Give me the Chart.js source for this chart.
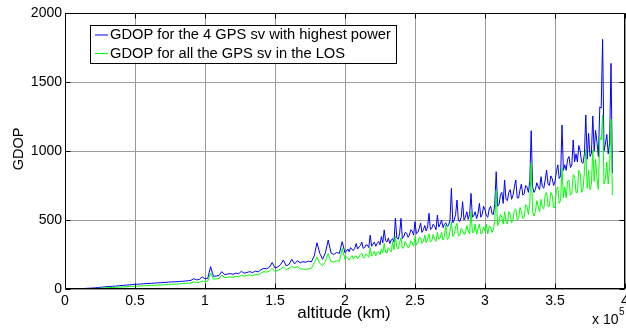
<!DOCTYPE html>
<html>
<head>
<meta charset="utf-8">
<script src="https://cdn.jsdelivr.net/npm/chart.js@4.4.1/dist/chart.umd.min.js"></script>
<style>
    html, body { margin: 0; padding: 0; background: #fff; }
    #wrap { width: 626px; height: 329px; }
</style>
</head>
<body>
<div id="wrap"><canvas id="gdop-chart" width="626" height="329"></canvas></div>
<script>
// altitude in units of 1e5 km (coarser below 2, finer above where the curves get noisy)
const altitude = [
    0, 0.02, 0.04, 0.06, 0.08, 0.1, 0.12, 0.14, 0.16, 0.18,
    0.2, 0.22, 0.24, 0.26, 0.28, 0.3, 0.32, 0.34, 0.36, 0.38,
    0.4, 0.42, 0.44, 0.46, 0.48, 0.5, 0.52, 0.54, 0.56, 0.58,
    0.6, 0.62, 0.64, 0.66, 0.68, 0.7, 0.72, 0.74, 0.76, 0.78,
    0.8, 0.82, 0.84, 0.86, 0.88, 0.9, 0.92, 0.94, 0.96, 0.98,
    1.0, 1.02, 1.04, 1.06, 1.08, 1.1, 1.12, 1.14, 1.16, 1.18,
    1.2, 1.22, 1.24, 1.26, 1.28, 1.3, 1.32, 1.34, 1.36, 1.38,
    1.4, 1.42, 1.44, 1.46, 1.48, 1.5, 1.52, 1.54, 1.56, 1.58,
    1.6, 1.62, 1.64, 1.66, 1.68, 1.7, 1.72, 1.74, 1.76, 1.78,
    1.8, 1.82, 1.84, 1.86, 1.88, 1.9, 1.92, 1.94, 1.96, 1.98,
    2.0, 2.01, 2.02, 2.03, 2.04, 2.05, 2.06, 2.07, 2.08, 2.09,
    2.1, 2.11, 2.12, 2.13, 2.14, 2.15, 2.16, 2.17, 2.18, 2.19,
    2.2, 2.21, 2.22, 2.23, 2.24, 2.25, 2.26, 2.27, 2.28, 2.29,
    2.3, 2.31, 2.32, 2.33, 2.34, 2.35, 2.36, 2.37, 2.38, 2.39,
    2.4, 2.41, 2.42, 2.43, 2.44, 2.45, 2.46, 2.47, 2.48, 2.49,
    2.5, 2.51, 2.52, 2.53, 2.54, 2.55, 2.56, 2.57, 2.58, 2.59,
    2.6, 2.61, 2.62, 2.63, 2.64, 2.65, 2.66, 2.67, 2.68, 2.69,
    2.7, 2.71, 2.72, 2.73, 2.74, 2.75, 2.76, 2.77, 2.78, 2.79,
    2.8, 2.81, 2.82, 2.83, 2.84, 2.85, 2.86, 2.87, 2.88, 2.89,
    2.9, 2.91, 2.92, 2.93, 2.94, 2.95, 2.96, 2.97, 2.98, 2.99,
    3.0, 3.01, 3.02, 3.03, 3.04, 3.05, 3.06, 3.07, 3.08, 3.09,
    3.1, 3.11, 3.12, 3.13, 3.14, 3.15, 3.16, 3.17, 3.18, 3.19,
    3.2, 3.21, 3.22, 3.23, 3.24, 3.25, 3.26, 3.27, 3.28, 3.29,
    3.3, 3.31, 3.32, 3.33, 3.34, 3.35, 3.36, 3.37, 3.38, 3.39,
    3.4, 3.41, 3.42, 3.43, 3.44, 3.45, 3.46, 3.47, 3.48, 3.49,
    3.5, 3.51, 3.52, 3.53, 3.54, 3.55, 3.56, 3.57, 3.58, 3.59,
    3.6, 3.61, 3.62, 3.63, 3.64, 3.65, 3.66, 3.67, 3.68, 3.69,
    3.7, 3.71, 3.72, 3.73, 3.74, 3.75, 3.76, 3.77, 3.78, 3.79,
    3.8, 3.81, 3.82, 3.83, 3.84, 3.85, 3.86, 3.87, 3.88, 3.89,
    3.9, 3.91
];

const gdopHighestPower = [
    0, 0, 1, 1, 2, 2, 3, 4, 5, 6,
    7, 9, 11, 13, 15, 17, 18, 20, 21, 23,
    25, 27, 28, 30, 32, 34, 35, 36, 38, 39,
    40, 41, 43, 44, 45, 47, 48, 50, 51, 52,
    53, 55, 56, 58, 60, 63, 75, 66, 70, 88,
    74, 78, 162, 92, 94, 98, 126, 104, 108, 112,
    106, 115, 110, 128, 114, 120, 126, 118, 130, 124,
    140, 150, 146, 158, 192, 152, 160, 176, 210, 168,
    178, 215, 182, 205, 190, 198, 194, 202, 196, 240,
    335, 258, 215, 262, 355, 262, 250, 265, 258, 343,
    262, 275, 290, 270, 300, 285, 280, 295, 330, 290,
    305, 315, 340, 295, 300, 320, 318, 300, 390, 310,
    325, 340, 310, 330, 345, 320, 380, 335, 428, 350,
    340, 370, 330, 355, 365, 340, 512, 370, 360, 400,
    512, 365, 380, 410, 405, 375, 390, 430, 420, 390,
    488, 400, 410, 440, 478, 410, 430, 460, 420, 450,
    549, 430, 440, 470, 455, 430, 536, 450, 470, 500,
    445, 470, 480, 455, 460, 500, 730, 480, 500, 540,
    645, 495, 490, 520, 633, 500, 520, 560, 505, 540,
    693, 520, 530, 560, 510, 545, 621, 520, 540, 600,
    575, 530, 520, 580, 600, 545, 540, 620, 850, 600,
    610, 680, 700, 620, 790, 650, 640, 700, 720, 650,
    680, 740, 790, 660, 660, 720, 760, 680, 690, 750,
    740, 700, 780, 1147, 740, 700, 720, 770, 740, 720,
    814, 740, 730, 790, 862, 760, 750, 820, 800, 750,
    780, 850, 900, 800, 820, 1188, 860, 900, 860, 940,
    960, 880, 900, 1080, 920, 980, 920, 1040, 1000, 920,
    910, 980, 1261, 940, 1128, 960, 980, 1254, 1000, 1150,
    1060, 960, 1320, 1310, 1809, 1000, 1050, 1120, 980, 1060,
    1635, 840
];

const gdopAllLos = [
    0, 0, 0, 0, 0, 0, 0, 1, 1, 2,
    3, 4, 5, 6, 8, 9, 10, 11, 12, 13,
    14, 16, 17, 18, 19, 20, 21, 22, 23, 24,
    25, 26, 27, 28, 29, 30, 31, 33, 34, 35,
    36, 38, 39, 40, 42, 44, 52, 46, 48, 58,
    54, 58, 116, 72, 74, 76, 101, 82, 85, 88,
    84, 92, 88, 100, 92, 98, 102, 96, 106, 102,
    116, 126, 122, 130, 150, 126, 134, 145, 160, 140,
    150, 165, 152, 162, 146, 144, 142, 146, 150, 190,
    232, 186, 170, 200, 258, 198, 195, 205, 200, 295,
    215, 232, 222, 210, 230, 242, 215, 235, 240, 220,
    232, 250, 260, 225, 228, 255, 245, 230, 300, 240,
    250, 275, 240, 265, 270, 250, 290, 260, 330, 265,
    260, 300, 280, 270, 343, 285, 380, 300, 290, 340,
    370, 295, 300, 345, 320, 300, 305, 350, 335, 310,
    380, 320, 330, 375, 370, 330, 345, 390, 335, 360,
    400, 340, 350, 395, 360, 345, 410, 360, 370, 410,
    355, 380, 464, 360, 365, 420, 488, 380, 395, 450,
    476, 385, 390, 440, 430, 395, 400, 460, 420, 400,
    560, 410, 410, 470, 395, 440, 470, 400, 405, 450,
    420, 470, 400, 455, 450, 410, 430, 500, 717, 460,
    480, 540, 520, 470, 560, 490, 470, 560, 540, 480,
    500, 570, 580, 500, 510, 590, 560, 510, 520, 610,
    600, 540, 620, 911, 560, 530, 560, 640, 600, 560,
    650, 590, 580, 680, 700, 600, 600, 700, 680, 590,
    590, 720, 740, 620, 640, 880, 660, 740, 660, 780,
    790, 680, 690, 830, 820, 700, 700, 860, 840, 700,
    720, 850, 1010, 730, 860, 720, 760, 1007, 780, 940,
    800, 720, 1100, 1080, 1261, 760, 800, 920, 760, 880,
    1232, 680
];

const xTickValues = [0, 0.5, 1, 1.5, 2, 2.5, 3, 3.5, 4];
const xTickLabels = ['0', '0.5', '1', '1.5', '2', '2.5', '3', '3.5', '4'];
const yTickValues = [0, 500, 1000, 1500, 2000];
const yTickLabels = ['0', '500', '1000', '1500', '2000'];

const FONT = 'Arial, "Liberation Sans", sans-serif';

const boxPlugin = {
    id: 'matlabBox',
    afterDraw(chart) {
        const ctx = chart.ctx;
        const a = chart.chartArea;
        const l = Math.round(a.left) + 0.5, r = Math.round(a.right) - 0.5;
        const t = Math.round(a.top) + 0.5, b = Math.round(a.bottom) - 0.5;
        ctx.save();
        ctx.strokeStyle = '#000';
        ctx.lineWidth = 1;
        ctx.strokeRect(l, t, r - l, b - t);

        // inward ticks on all four sides
        ctx.beginPath();
        chart.scales.x.ticks.forEach(tk => {
            const px = Math.round(chart.scales.x.getPixelForValue(tk.value)) + 0.5;
            ctx.moveTo(px, b); ctx.lineTo(px, b - 5);
            ctx.moveTo(px, t); ctx.lineTo(px, t + 5);
        });
        chart.scales.y.ticks.forEach(tk => {
            const py = Math.round(chart.scales.y.getPixelForValue(tk.value)) + 0.5;
            ctx.moveTo(l, py); ctx.lineTo(l + 5, py);
            ctx.moveTo(r, py); ctx.lineTo(r - 5, py);
        });
        ctx.stroke();

        // legend
        ctx.fillStyle = '#fff';
        ctx.fillRect(90.5, 25.5, 306, 38);
        ctx.strokeRect(90.5, 25.5, 306, 38);
        const entries = [chart.data.datasets[1], chart.data.datasets[0]];
        ctx.font = '14.7px ' + FONT;
        ctx.textBaseline = 'middle';
        ctx.textAlign = 'left';
        entries.forEach((ds, i) => {
            const y = 35 + i * 18.5;
            ctx.strokeStyle = ds.borderColor;
            ctx.beginPath();
            ctx.moveTo(95, y); ctx.lineTo(108, y);
            ctx.stroke();
            ctx.fillStyle = '#000';
            ctx.fillText(ds.label, 110, y);
        });

        // axis titles
        ctx.fillStyle = '#000';
        ctx.textAlign = 'center';
        ctx.textBaseline = 'alphabetic';
        ctx.font = '17px ' + FONT;
        ctx.fillText('altitude (km)', 344, 318);
        ctx.font = '14px ' + FONT;
        ctx.textAlign = 'left';
        ctx.fillText('x 10', 592, 324);
        ctx.font = '10px ' + FONT;
        ctx.fillText('5', 619, 315);
        ctx.font = '14.5px ' + FONT;
        ctx.translate(23, 149);
        ctx.rotate(-Math.PI / 2);
        ctx.textAlign = 'center';
        ctx.fillText('GDOP', 0, 0);
        ctx.restore();
    }
};

const ctx = document.getElementById('gdop-chart').getContext('2d');

const gdopChart = new Chart(ctx, {
    type: 'line',
    data: {
        datasets: [{
            label: 'GDOP for all the GPS sv in the LOS',
            data: altitude.map((x, i) => ({ x: x, y: gdopAllLos[i] })),
            borderColor: '#00ff00',
            borderWidth: 1,
            pointRadius: 0,
            tension: 0,
            fill: false
        }, {
            label: 'GDOP for the 4 GPS sv with highest power',
            data: altitude.map((x, i) => ({ x: x, y: gdopHighestPower[i] })),
            borderColor: '#0000ff',
            borderWidth: 1,
            pointRadius: 0,
            tension: 0,
            fill: false
        }]
    },
    options: {
        responsive: false,
        animation: false,
        layout: { padding: { top: 13, right: 1, left: 0, bottom: 0 } },
        plugins: {
            legend: { display: false },
            tooltip: { enabled: false }
        },
        scales: {
            x: {
                type: 'linear',
                min: 0,
                max: 4,
                afterBuildTicks: s => { s.ticks = xTickValues.map(v => ({ value: v })); },
                afterFit: s => { s.height = 40; s.paddingLeft = 0; s.paddingRight = 0; },
                ticks: {
                    callback: (v, i) => xTickLabels[i],
                    maxRotation: 0,
                    autoSkip: false,
                    padding: 4,
                    color: '#000',
                    font: { family: FONT, size: 14 }
                },
                grid: { color: '#9a9a9a', lineWidth: 1, drawTicks: false },
                border: { display: false }
            },
            y: {
                min: 0,
                max: 2000,
                afterBuildTicks: s => { s.ticks = yTickValues.map(v => ({ value: v })); },
                afterFit: s => { s.width = 65; s.paddingTop = 0; s.paddingBottom = 0; },
                ticks: {
                    callback: (v, i) => yTickLabels[i],
                    padding: 3,
                    color: '#000',
                    font: { family: FONT, size: 14 }
                },
                grid: { color: '#9a9a9a', lineWidth: 1, drawTicks: false },
                border: { display: false }
            }
        }
    },
    plugins: [boxPlugin]
});
</script>
</body>
</html>
